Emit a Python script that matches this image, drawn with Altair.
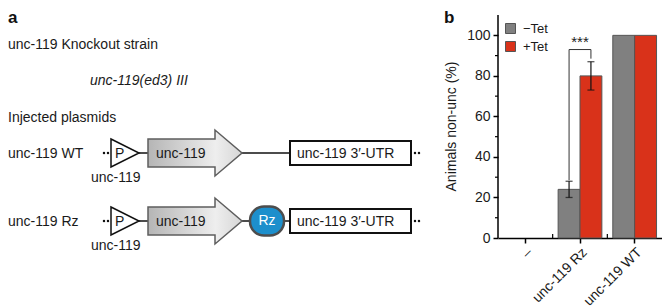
import altair as alt
import pandas as pd

# ---------------- panel b : data ----------------
categories = ["–", "unc-119 Rz", "unc-119 WT"]
groups = ["−Tet", "+Tet"]
minus_tet = [0, 24, 100]
plus_tet = [0, 80, 100]
minus_err = [0, 4, 0]
plus_err = [0, 7, 0]
bar_colors = ["#808080", "#d9321a"]
major_ticks = [0, 20, 40, 60, 80, 100]
minor_ticks = [10, 30, 50, 70, 90]
bracket_pts = [("−Tet", 28.5), ("−Tet", 93), ("+Tet", 93), ("+Tet", 88.5)]
stars_y = 94.5
axis_top = 110

# ---------------- panel a : schematic (reference-pixel frame) ----------------
row_names = ["WT", "Rz"]
row_centers = [149, 217]
promoter_x = [104, 132]
gene_x = [141, 208, 235]
utr_x = [283, 404]
rz_x = [243, 277]
dots_before = [97, 101]
dots_after = [408, 412]

rows = []
for i, c in enumerate(categories):
    rows.append(dict(cat=c, grp=groups[0], val=minus_tet[i], lo=minus_tet[i] - minus_err[i],
                     hi=minus_tet[i] + minus_err[i], err=minus_err[i]))
    rows.append(dict(cat=c, grp=groups[1], val=plus_tet[i], lo=plus_tet[i] - plus_err[i],
                     hi=plus_tet[i] + plus_err[i], err=plus_err[i]))
df = pd.DataFrame(rows)
df_bars = df[df.val > 0]
df_err = df[df.err > 0]
df_br = pd.DataFrame([dict(cat="unc-119 Rz", grp=g, y=v, o=k) for k, (g, v) in enumerate(bracket_pts)])
df_star = pd.DataFrame([dict(cat="unc-119 Rz", y=stars_y, t="***")])
df_axis = pd.DataFrame([dict(y0=0, y1=axis_top)])
df_minor = pd.DataFrame(dict(y=minor_ticks))
df_xminor = pd.DataFrame(dict(cat=categories[1:]))

RW, RH = 164, 230
xs = alt.Scale(domain=categories, paddingInner=0, paddingOuter=0)
ys = alt.Scale(domain=[0, 113.5], nice=False, zero=True)
os_ = alt.Scale(domain=groups, paddingInner=0, paddingOuter=0.25)
x_axis = alt.Axis(title=None, labelAngle=-45, labelFontSize=14, labelPadding=2,
                  tickSize=5, tickWidth=1.5, tickColor="black",
                  domainColor="black", domainWidth=1.5, labelColor="#1a1a1a")
y_axis = alt.Axis(values=major_ticks, title="Animals non-unc (%)", titleFontSize=14,
                  titleFontWeight="normal", titleX=-43, titleY=118,
                  titleBaseline="alphabetic", titleColor="#1a1a1a",
                  grid=False, domain=False, tickSize=5, tickWidth=1.5,
                  tickColor="black", labelFontSize=14, labelPadding=3,
                  labelColor="#1a1a1a")


def BX(**kw):
    return alt.X("cat:N", scale=xs, sort=categories, axis=x_axis, **kw)


def BY(f):
    return alt.Y(f, type="quantitative", scale=ys, axis=y_axis)


XO = alt.XOffset("grp:N", scale=os_, sort=groups)

bars = alt.Chart(df_bars).mark_bar(stroke="#555555", strokeWidth=1).encode(
    x=BX(), xOffset=XO, y=BY("val"),
    color=alt.Color("grp:N", scale=alt.Scale(domain=groups, range=bar_colors),
                    legend=alt.Legend(title=None, orient="none", legendX=496, legendY=14,
                                      symbolType="square", symbolSize=100,
                                      symbolStrokeColor="#555555", symbolStrokeWidth=1,
                                      labelFontSize=13, rowPadding=3, labelOffset=6,
                                      padding=0, labelColor="#1a1a1a")),
)
err = alt.Chart(df_err).mark_rule(color="#111", strokeWidth=1.2).encode(
    x=BX(), xOffset=XO, y=BY("lo"), y2="hi:Q")
cap_lo = alt.Chart(df_err).mark_tick(color="#111", orient="horizontal", size=7, thickness=1.3).encode(
    x=BX(), xOffset=XO, y=BY("lo"))
cap_hi = alt.Chart(df_err).mark_tick(color="#111", orient="horizontal", size=7, thickness=1.3).encode(
    x=BX(), xOffset=XO, y=BY("hi"))
bracket = alt.Chart(df_br).mark_line(color="#333", strokeWidth=1).encode(
    x=BX(), xOffset=XO, y=BY("y"), order="o:Q")
stars = alt.Chart(df_star).mark_text(fontSize=15, baseline="alphabetic", color="#222").encode(
    x=BX(), y=BY("y"), text="t:N")
yline = alt.Chart(df_axis).mark_rule(color="black", strokeWidth=1.5).encode(
    x=alt.value(0), y=BY("y0"), y2="y1:Q")
yminor = alt.Chart(df_minor).mark_rule(color="black", strokeWidth=1.2).encode(
    x=alt.value(-3), x2=alt.value(0), y=BY("y"))
xminor = alt.Chart(df_xminor).mark_rule(color="black", strokeWidth=1.2).encode(
    x=BX(bandPosition=0), y=alt.value(RH), y2=alt.value(RH - 4))

right = alt.layer(bars, err, cap_lo, cap_hi, bracket, stars, yline, yminor, xminor).properties(
    width=RW, height=RH)

# ---------------- panel a : build shapes ----------------
LW, LH = 450, 290
lxs = alt.Scale(domain=[1, 1 + LW], nice=False, zero=False)
lys = alt.Scale(domain=[4, 4 + LH], nice=False, zero=False, reverse=True)


def LX(f):
    return alt.X(f, type="quantitative", scale=lxs, axis=None)


def LY(f):
    return alt.Y(f, type="quantitative", scale=lys, axis=None)


arrow_rows, tri_rows, box_rows, rz_rows, seg_rows, dot_rows = [], [], [], [], [], []
for name, c in zip(row_names, row_centers):
    arrow_rows += [dict(s=name, x=gene_x[0], y=c - 14, y2=c + 14),
                   dict(s=name, x=gene_x[1], y=c - 14, y2=c + 14),
                   dict(s=name, x=gene_x[1], y=c - 23, y2=c + 23),
                   dict(s=name, x=gene_x[2], y=c, y2=c)]
    tri_rows += [dict(s=name, x=promoter_x[0], y=c - 14, y2=c + 14),
                 dict(s=name, x=promoter_x[1], y=c, y2=c)]
    box_rows.append(dict(x=utr_x[0], x2=utr_x[1], y=c - 12, y2=c + 12))
    seg_rows.append(dict(x=promoter_x[1], x2=gene_x[0], y=c))
    if name == "Rz":
        rz_rows.append(dict(x=rz_x[0], x2=rz_x[1], y=c - 14.5, y2=c + 14.5, cx=(rz_x[0] + rz_x[1]) / 2, cy=c))
        seg_rows.append(dict(x=gene_x[2], x2=rz_x[0], y=c))
        seg_rows.append(dict(x=rz_x[1], x2=utr_x[0], y=c))
    else:
        seg_rows.append(dict(x=gene_x[2], x2=utr_x[0], y=c))
    for d in dots_before + dots_after:
        dot_rows.append(dict(x=d, y=c))

plain_texts = [("unc-119 Knockout strain", 1, 45), ("Injected plasmids", 1, 118)]
for name, c in zip(row_names, row_centers):
    plain_texts += [("unc-119 " + name, 1, c + 5), ("P", 108, c + 5), ("unc-119", 84, c + 29),
                    ("unc-119", 149, c + 5), ("unc-119 3′-UTR", 290, c + 5)]
df_plain = pd.DataFrame(plain_texts, columns=["t", "x", "y"])
df_ital = pd.DataFrame([("unc-119(ed3) III", 83, 81)], columns=["t", "x", "y"])
df_bold = pd.DataFrame([("a", 1, 19), ("b", 437, 19)], columns=["t", "x", "y"])

grad = alt.Gradient(gradient="linear",
                    stops=[alt.GradientStop(color="#b5b5b5", offset=0),
                           alt.GradientStop(color="#eeeeee", offset=0.72),
                           alt.GradientStop(color="#d6d6d6", offset=1)],
                    x1=0, x2=1, y1=0, y2=0)

segs = alt.Chart(pd.DataFrame(seg_rows)).mark_rule(color="#111", strokeWidth=1.5).encode(
    x=LX("x"), x2="x2:Q", y=LY("y"))
dots = alt.Chart(pd.DataFrame(dot_rows)).mark_circle(size=6, color="#111", opacity=1).encode(
    x=LX("x"), y=LY("y"))
arrows = alt.Chart(pd.DataFrame(arrow_rows)).mark_area(
    fill=grad, stroke="#5e5e5e", strokeWidth=1.5, orient="vertical", interpolate="linear").encode(
    x=LX("x"), y=LY("y"), y2="y2:Q", detail="s:N")
tris = alt.Chart(pd.DataFrame(tri_rows)).mark_area(
    fill="white", stroke="#111", strokeWidth=1.5, orient="vertical").encode(
    x=LX("x"), y=LY("y"), y2="y2:Q", detail="s:N")
boxes = alt.Chart(pd.DataFrame(box_rows)).mark_rect(fill="white", stroke="#111", strokeWidth=2).encode(
    x=LX("x"), x2="x2:Q", y=LY("y"), y2="y2:Q")
rz = alt.Chart(pd.DataFrame(rz_rows)).mark_rect(
    fill="#1d8fcc", stroke="#4d4d4d", strokeWidth=2.5, cornerRadius=14).encode(
    x=LX("x"), x2="x2:Q", y=LY("y"), y2="y2:Q")
rz_txt = alt.Chart(pd.DataFrame(rz_rows)).mark_text(
    fontSize=14, color="white", align="center", baseline="middle").encode(
    x=LX("cx"), y=LY("cy"), text=alt.value("Rz"))
t_plain = alt.Chart(df_plain).mark_text(fontSize=14, align="left", baseline="alphabetic", color="#1a1a1a").encode(
    x=LX("x"), y=LY("y"), text="t:N")
t_ital = alt.Chart(df_ital).mark_text(fontSize=14, fontStyle="italic", align="left",
                                      baseline="alphabetic", color="#1a1a1a").encode(
    x=LX("x"), y=LY("y"), text="t:N")
t_bold = alt.Chart(df_bold).mark_text(fontSize=17, fontWeight="bold", align="left",
                                      baseline="alphabetic", color="#111").encode(
    x=LX("x"), y=LY("y"), text="t:N")

left = alt.layer(segs, dots, arrows, tris, boxes, rz, rz_txt, t_plain, t_ital, t_bold).properties(
    width=LW, height=LH)

chart = alt.hconcat(left, right, spacing=40, bounds="flush").properties(padding=0).configure(
    font="Liberation Sans").configure_view(stroke=None)

chart.save("out.html", embed_options={"renderer": "svg", "actions": False})
